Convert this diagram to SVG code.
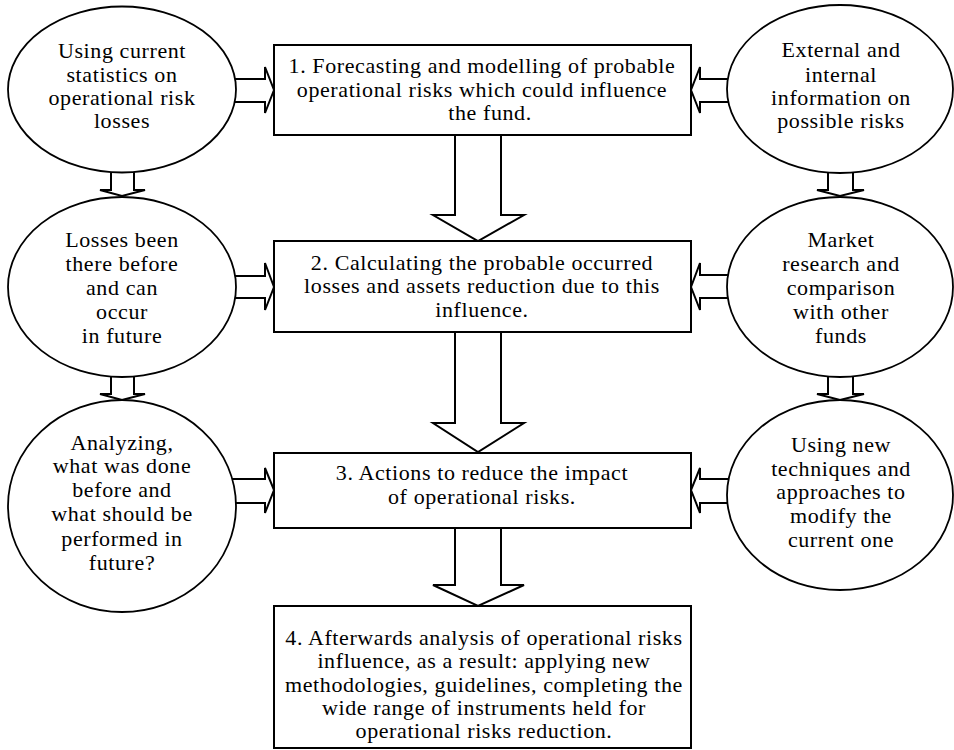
<svg xmlns="http://www.w3.org/2000/svg" width="954" height="750" viewBox="0 0 954 750">
<style>
.arr{fill:#fff;stroke:#000;stroke-width:2;stroke-linejoin:miter}
.box{fill:#fff;stroke:#000;stroke-width:2}
.ell{fill:#fff;stroke:#000;stroke-width:1.8}
text{font-family:"Liberation Serif","Times New Roman",serif;font-size:22px;letter-spacing:0.6px;fill:#000;text-anchor:middle}
</style>
<rect width="954" height="750" fill="#fff"/>
<g id="connectors">
<polyline class="arr" points="455,135 455,215 433,215 478,241 524,215 501,215 501,135"/>
<polyline class="arr" points="455,332 455,423 433,423 478,452 524,423 501,423 501,332"/>
<polyline class="arr" points="455,528 455,585 433,585 478,606 524,585 501,585 501,528"/>
<polyline class="arr" points="200,79 265,79 265,67 274,90 265,113 265,102 200,102"/>
<polyline class="arr" points="200,276 265,276 265,263 274,287 265,310 265,298 200,298"/>
<polyline class="arr" points="200,479 265,479 265,468 274,490 265,513 265,503 200,503"/>
<polyline class="arr" points="760,79 700,79 700,67 691,90 700,113 700,102 760,102"/>
<polyline class="arr" points="760,275 700,275 700,263 691,287 700,310 700,298 760,298"/>
<polyline class="arr" points="760,479 700,479 700,468 691,490 700,513 700,503 760,503"/>
<polyline class="arr" points="111,160 111,190 100,190 122,196 145,190 134,190 134,160"/>
<polyline class="arr" points="111,365 111,394 100,394 122,400 145,394 134,394 134,365"/>
<polyline class="arr" points="828,160 828,190 817,190 840,196 864,190 853,190 853,160"/>
<polyline class="arr" points="828,365 828,394 817,394 840,400 864,394 853,394 853,365"/>
</g>
<g id="e1">
<ellipse class="ell" cx="122" cy="89.5" rx="114" ry="83"/>
<text x="122" y="58">Using current</text>
<text x="122" y="82">statistics on</text>
<text x="122" y="105">operational risk</text>
<text x="122" y="128">losses</text>
</g>
<g id="b1">
<rect class="box" x="274" y="45" width="417" height="90"/>
<text x="482" y="73">1. Forecasting and modelling of probable</text>
<text x="482" y="97">operational risks which could influence</text>
<text x="490" y="120">the fund.</text>
</g>
<g id="r1">
<ellipse class="ell" cx="840" cy="89" rx="113" ry="84"/>
<text x="841" y="57">External and</text>
<text x="841" y="82">internal</text>
<text x="841" y="105">information on</text>
<text x="841" y="128">possible risks</text>
</g>
<g id="e2">
<ellipse class="ell" cx="122" cy="287" rx="114" ry="90"/>
<text x="122" y="247">Losses been</text>
<text x="122" y="271">there before</text>
<text x="122" y="295">and can</text>
<text x="122" y="319">occur</text>
<text x="122" y="343">in future</text>
</g>
<g id="b2">
<rect class="box" x="274" y="241" width="417" height="91"/>
<text x="482" y="270">2. Calculating the probable occurred</text>
<text x="482" y="293">losses and assets reduction due to this</text>
<text x="482" y="317">influence.</text>
</g>
<g id="r2">
<ellipse class="ell" cx="840" cy="287" rx="113" ry="90"/>
<text x="841" y="247">Market</text>
<text x="841" y="271">research and</text>
<text x="841" y="295">comparison</text>
<text x="841" y="319">with other</text>
<text x="841" y="343">funds</text>
</g>
<g id="e3">
<ellipse class="ell" cx="122" cy="506" rx="114" ry="106"/>
<text x="122" y="450">Analyzing,</text>
<text x="122" y="473">what was done</text>
<text x="122" y="497">before and</text>
<text x="122" y="521">what should be</text>
<text x="122" y="546">performed in</text>
<text x="122" y="570">future?</text>
</g>
<g id="b3">
<rect class="box" x="274" y="453" width="417" height="75"/>
<text x="482" y="480">3. Actions to reduce the impact</text>
<text x="482" y="504">of operational risks.</text>
</g>
<g id="r3">
<ellipse class="ell" cx="840" cy="495" rx="113" ry="95"/>
<text x="841" y="452">Using new</text>
<text x="841" y="476">techniques and</text>
<text x="841" y="499">approaches to</text>
<text x="841" y="523">modify the</text>
<text x="841" y="547">current one</text>
</g>
<g id="b4">
<rect class="box" x="274" y="606" width="417" height="142"/>
<text x="484" y="645">4. Afterwards analysis of operational risks</text>
<text x="484" y="668">influence, as a result: applying new</text>
<text x="484" y="692">methodologies, guidelines, completing the</text>
<text x="484" y="715">wide range of instruments held for</text>
<text x="484" y="738">operational risks reduction.</text>
</g>
</svg>
